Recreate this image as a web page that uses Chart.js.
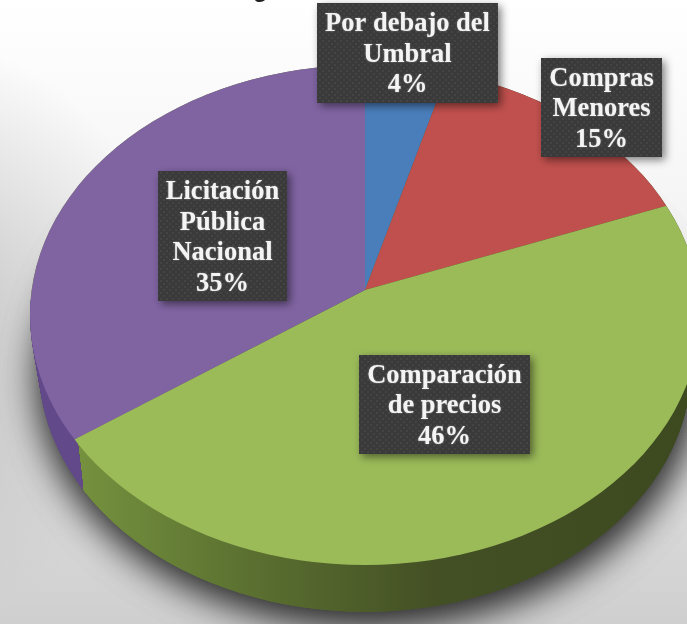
<!DOCTYPE html>
<html>
<head>
<meta charset="utf-8">
<style>html,body{margin:0;padding:0;background:#fff;overflow:hidden}canvas{display:block}</style>
<script src="https://cdn.jsdelivr.net/npm/chart.js@4/dist/chart.umd.min.js"></script>
</head>
<body>
<canvas id="c" width="687" height="624"></canvas>
<script>
const categories = ['Por debajo del Umbral', 'Compras Menores', 'Comparación de precios', 'Licitación Pública Nacional'];
const values = [4.4, 14.9, 46.1, 34.6];
const sliceColors = ['#4a7ebb', '#c0504d', '#9bbb59', '#8064a2'];
const labelLines = [
  ['Por debajo del', 'Umbral', '4%'],
  ['Compras', 'Menores', '15%'],
  ['Comparación', 'de precios', '46%'],
  ['Licitación', 'Pública', 'Nacional', '35%']
];
const labelBoxes = [
  [317, 3, 181, 100],
  [541, 58, 121, 99],
  [359, 355, 171, 99],
  [158, 171, 129, 130]
];
const apex = { x: 365, y: 290 };
const topRim = { x: 365, y: 315, rx: 335, ry: 250 };
const lowRim = { x: 365, y: 367, rx: 326, ry: 245 };
const squash = topRim.ry / topRim.rx;

function ellipsePath(ctx, e) {
  ctx.beginPath();
  ctx.ellipse(e.x, e.y, e.rx, e.ry, 0, 0, Math.PI * 2);
  ctx.closePath();
}
function lerpRim(t) {
  return {
    x: topRim.x,
    y: topRim.y + (lowRim.y - topRim.y) * t,
    rx: topRim.rx + (lowRim.rx - topRim.rx) * t,
    ry: topRim.ry + (lowRim.ry - topRim.ry) * t
  };
}
function dotPattern(ctx) {
  const p = document.createElement('canvas');
  p.width = 6; p.height = 6;
  const g = p.getContext('2d');
  g.fillStyle = '#3a3a3a'; g.fillRect(0, 0, 6, 6);
  g.fillStyle = '#444444';
  g.fillRect(1, 1, 2, 2);
  g.fillRect(4, 4, 2, 2);
  return ctx.createPattern(p, 'repeat');
}

const scene = {
  id: 'scene',
  beforeDraw(chart) {
    const ctx = chart.ctx, W = chart.width, H = chart.height;
    ctx.save();
    const bg = ctx.createLinearGradient(0, 0, 0, H);
    bg.addColorStop(0, '#ffffff');
    bg.addColorStop(0.3, '#f6f6f6');
    bg.addColorStop(0.7, '#e0e0e0');
    bg.addColorStop(1, '#cfcfcf');
    ctx.fillStyle = bg;
    ctx.fillRect(0, 0, W, H);
    const vl = ctx.createRadialGradient(-120, 330, 60, -120, 330, 300);
    vl.addColorStop(0, 'rgba(170,170,170,0.55)');
    vl.addColorStop(1, 'rgba(170,170,170,0)');
    ctx.fillStyle = vl;
    ctx.fillRect(0, 0, 220, H);
    ctx.font = 'bold 24px "Liberation Sans"';
    ctx.fillStyle = '#222';
    ctx.fillText('g', 253, -3);
    ctx.restore();
  },
  beforeDatasetsDraw(chart) {
    const ctx = chart.ctx;
    ctx.save();
    ctx.save();
    ctx.shadowColor = 'rgba(0,0,0,0.6)';
    ctx.fillStyle = '#555';
    ctx.shadowBlur = 38;
    ctx.shadowOffsetX = 3;
    ctx.shadowOffsetY = 10;
    ellipsePath(ctx, lowRim);
    ctx.fill();
    ctx.fill();
    ctx.restore();

    const side = ctx.createLinearGradient(70, 0, 687, 0);
    side.addColorStop(0, '#76933f');
    side.addColorStop(0.3, '#5a6f30');
    side.addColorStop(0.6, '#434f24');
    side.addColorStop(1, '#3d4a20');
    for (let i = 0; i <= 52; i++) {
      ellipsePath(ctx, lerpRim(i / 52));
      ctx.fillStyle = side;
      ctx.fill();
    }
    ctx.save();
    ctx.beginPath();
    ctx.moveTo(0, 300); ctx.lineTo(60, 300); ctx.lineTo(77, 438); ctx.lineTo(83, 487); ctx.lineTo(83, 530); ctx.lineTo(0, 530);
    ctx.closePath();
    ctx.clip();
    ctx.fillStyle = '#62498a';
    for (let i = 0; i <= 52; i++) {
      ellipsePath(ctx, lerpRim(i / 52));
      ctx.fill();
    }
    ctx.restore();

    ellipsePath(ctx, topRim);
    ctx.clip();
    ctx.translate(apex.x, apex.y);
    ctx.scale(1, squash);
    ctx.translate(-apex.x, -apex.y);
  },
  afterDatasetsDraw(chart) {
    chart.ctx.restore();
  },
  afterDraw(chart) {
    const ctx = chart.ctx;
    const pat = dotPattern(ctx);
    labelLines.forEach((lines, i) => {
      const [x, y, w, h] = labelBoxes[i];
      ctx.save();
      ctx.shadowColor = 'rgba(0,0,0,0.5)';
      ctx.shadowBlur = 8;
      ctx.shadowOffsetX = 3;
      ctx.shadowOffsetY = 3;
      ctx.fillStyle = pat;
      ctx.fillRect(x, y, w, h);
      ctx.restore();

      ctx.save();
      ctx.font = 'bold 26.5px "Liberation Serif"';
      ctx.textAlign = 'center';
      ctx.textBaseline = 'middle';
      ctx.fillStyle = '#f4f4f4';
      ctx.shadowColor = 'rgba(255,255,255,0.4)';
      ctx.shadowBlur = 2;
      const lh = 30.5;
      const cy = y + h / 2 + 2;
      lines.forEach((line, j) => {
        ctx.fillText(line, x + w / 2, cy + (j - (lines.length - 1) / 2) * lh);
      });
      ctx.restore();
    });
  }
};

new Chart(document.getElementById('c'), {
  type: 'pie',
  data: {
    labels: categories,
    datasets: [{
      data: values,
      backgroundColor: sliceColors,
      borderWidth: 0,
      clip: false
    }]
  },
  options: {
    responsive: false,
    animation: false,
    radius: 420,
    layout: { padding: { left: 43, right: 0, top: 0, bottom: 44 } },
    plugins: { legend: { display: false }, title: { display: false }, tooltip: { enabled: false } }
  },
  plugins: [scene]
});
</script>
</body>
</html>
